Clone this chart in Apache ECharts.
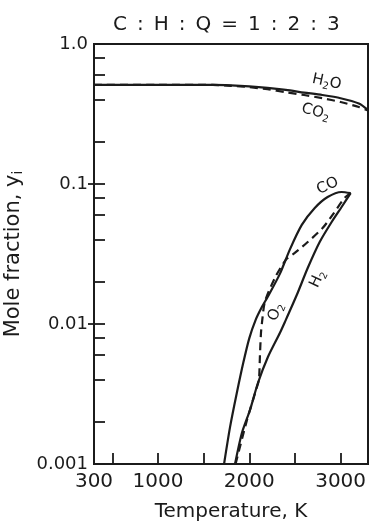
<!DOCTYPE html>
<html>
<head>
<meta charset="utf-8">
<script src="https://cdn.jsdelivr.net/npm/echarts@6/dist/echarts.min.js"></script>
<style>
html,body{margin:0;padding:0;background:#fff;}
#c{width:371px;height:526px;}
</style>
</head>
<body>
<div id="c"></div>
<script>
// ---- data ----
const h2oT = [300, 1000, 1600, 1800, 2000, 2200, 2400, 2600, 2800, 3000, 3200, 3300];
const h2oY = [0.51, 0.51, 0.51, 0.506, 0.498, 0.486, 0.47, 0.45, 0.432, 0.41, 0.376, 0.338];
const co2T = [300, 1000, 1600, 1800, 2000, 2200, 2400, 2600, 2800, 3000, 3200, 3300];
const co2Y = [0.51, 0.51, 0.51, 0.503, 0.492, 0.475, 0.452, 0.432, 0.41, 0.385, 0.355, 0.335];
const coT = [1724, 1790, 1863, 1935, 2000, 2070, 2135, 2204, 2335, 2444, 2575, 2717, 2858, 3011, 3110];
const coY = [0.001, 0.00184, 0.0032, 0.0053, 0.0079, 0.0107, 0.0131, 0.0157, 0.0228, 0.034, 0.051, 0.0674, 0.0807, 0.0877, 0.086];
const h2T = [1844, 1920, 2008, 2095, 2204, 2335, 2389, 2520, 2640, 2771, 2902, 3011, 3110];
const h2Y = [0.001, 0.00167, 0.00243, 0.00379, 0.00581, 0.00863, 0.0103, 0.0161, 0.0251, 0.0385, 0.0535, 0.0685, 0.086];
const o2T = [1850, 1975, 2084, 2106, 2117, 2128, 2139, 2171, 2280, 2400, 2498, 2640, 2803, 2912, 3043, 3110];
const o2Y = [0.001, 0.00206, 0.00355, 0.004, 0.006, 0.0086, 0.0102, 0.0144, 0.0213, 0.0287, 0.0322, 0.0385, 0.0485, 0.0601, 0.0794, 0.086];

const xLabelValues = [300, 1000, 2000, 3000];
const xTickValues = [500, 1000, 1500, 2000, 2500, 3000];
const yLabelValues = [0.001, 0.01, 0.1, 1];
const yLabelTexts = ['0.001', '0.01', '0.1', '1.0'];
const yTickValues = [0.001, 0.002, 0.004, 0.006, 0.008, 0.01, 0.02, 0.04, 0.06, 0.08,
                     0.1, 0.2, 0.4, 0.6, 0.8, 1];
const yMajorOutValues = [0.01, 0.1];

const titleText = 'C\u2002:\u2002H\u2002:\u2002Q\u2002=\u20021\u2002:\u20022\u2002:\u20023';
const xName = 'Temperature, K';
const yName = 'Mole fraction, y{s|i}';

// curve annotations: text, anchor (T, y) in data space
const noteText = ['H{s|2}O', 'CO{s|2}', 'CO', 'H{s|2}', 'O{s|2}'];
const noteT = [2847, 2727, 2858, 2749, 2291];
const noteY = [0.535, 0.327, 0.0968, 0.021, 0.0122];
const noteRotDeg = [-12, -15, 25, 65, 68];

const zip = (a, b) => a.map((v, i) => [v, b[i]]);
const INK = '#1b1b1b';
const FONT = 'DejaVu Sans';

const chart = echarts.init(document.getElementById('c'), null, {renderer: 'canvas'});

function lineSeries(name, T, Y, dashed) {
  return {
    name, type: 'line', data: zip(T, Y), showSymbol: false, smooth: 0.25,
    xAxisIndex: 0, yAxisIndex: 0,
    lineStyle: {color: INK, width: 2.2, type: dashed ? [8, 5] : 'solid'},
    silent: true, animation: false
  };
}

const option = {
  animation: false,
  backgroundColor: '#ffffff',
  textStyle: {fontFamily: FONT, color: INK},
  title: {
    text: titleText, left: 108, top: 10,
    textStyle: {fontFamily: FONT, fontSize: 20, fontWeight: 'normal', color: INK}
  },
  grid: {left: 94, right: 3, top: 44, bottom: 62, show: true, outerBoundsMode: 'none',
         containLabel: false,
         borderColor: INK, borderWidth: 2, backgroundColor: 'transparent'},
  xAxis: [{
    type: 'value', min: 300, max: 3300,
    name: xName, nameLocation: 'middle', nameGap: 38,
    nameTextStyle: {fontFamily: FONT, fontSize: 20, color: INK},
    axisLine: {show: true, lineStyle: {color: INK, width: 2}},
    axisTick: {show: true, inside: true, length: 11, customValues: xTickValues,
               lineStyle: {color: INK, width: 1.8}},
    axisLabel: {customValues: xLabelValues, fontFamily: FONT, fontSize: 20, color: INK, margin: 8,
                formatter: v => String(Math.round(v))},
    splitLine: {show: false}
  }],
  yAxis: [{
    type: 'log', logBase: 10, min: 0.001, max: 1,
    name: yName, nameLocation: 'middle', nameGap: 59,
    nameTextStyle: {fontFamily: FONT, fontSize: 21, color: INK, lineHeight: 25,
                    rich: {s: {fontSize: 14, verticalAlign: 'bottom', fontFamily: FONT, color: INK}}},
    axisLine: {show: true, lineStyle: {color: INK, width: 2}},
    axisTick: {show: true, inside: true, length: 11, customValues: yTickValues,
               lineStyle: {color: INK, width: 1.8}},
    axisLabel: {customValues: yLabelValues, fontFamily: FONT, fontSize: 18, color: INK, margin: 6,
                formatter: v => {
                  const i = yLabelValues.findIndex(u => Math.abs(Math.log10(u) - Math.log10(v)) < 1e-6);
                  return i >= 0 ? yLabelTexts[i] : '';
                }},
    splitLine: {show: false}, minorSplitLine: {show: false}
  }, {
    type: 'log', logBase: 10, min: 0.001, max: 1, position: 'left',
    axisLine: {show: false},
    axisTick: {show: true, inside: false, length: 6, customValues: yMajorOutValues,
               lineStyle: {color: INK, width: 1.8}},
    axisLabel: {show: false}, splitLine: {show: false}
  }],
  series: [
    lineSeries('H2O', h2oT, h2oY, false),
    lineSeries('CO2', co2T, co2Y, true),
    lineSeries('CO', coT, coY, false),
    lineSeries('H2', h2T, h2Y, false),
    lineSeries('O2', o2T, o2Y, true)
  ]
};
chart.setOption(option);

const notes = noteText.map((t, i) => {
  const p = chart.convertToPixel({xAxisIndex: 0, yAxisIndex: 0}, [noteT[i], noteY[i]]);
  return {
    type: 'text', x: p[0], y: p[1], rotation: noteRotDeg[i] * Math.PI / 180, silent: true,
    style: {
      text: t, fontFamily: FONT, fontSize: 15, fill: INK, lineHeight: 19,
      align: 'center', verticalAlign: 'middle',
      rich: {s: {fontSize: 10, verticalAlign: 'bottom', fontFamily: FONT, fill: INK}}
    }
  };
});
chart.setOption({graphic: notes});
</script>
</body>
</html>
